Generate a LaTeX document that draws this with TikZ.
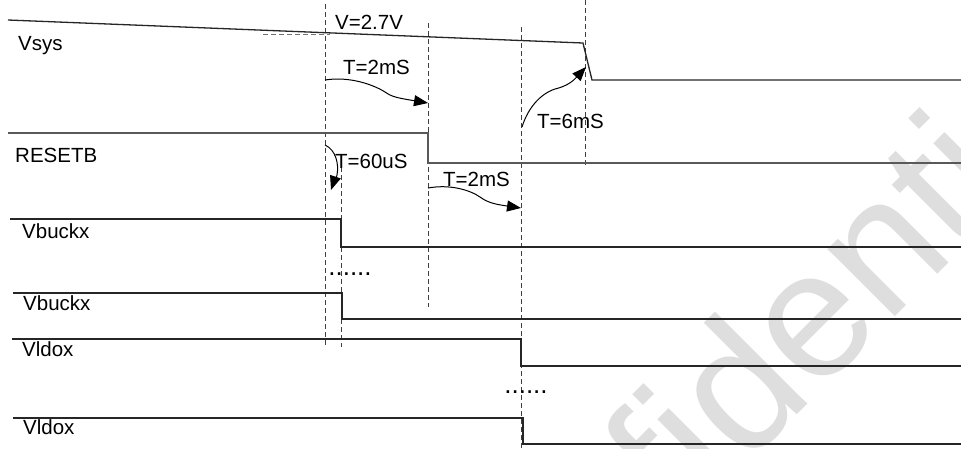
\documentclass[tikz,border=0pt]{standalone}
\usepackage{fontspec}
\setmainfont{Liberation Sans}
\usetikzlibrary{arrows.meta}
\begin{document}
\begin{tikzpicture}[x=1pt,y=-1pt,
  sig/.style={line width=1.3pt,draw=black!85},
  guide/.style={line width=0.8pt,draw=black!75,dash pattern=on 5pt off 3pt},
  lbl/.style={inner sep=0pt,anchor=base west,font=\fontsize{20.5}{24}\selectfont},
  dots/.style={inner sep=0pt,anchor=base,font=\fontsize{26}{28}\selectfont},
  tarrow/.style={line width=1pt,draw=black,-{Triangle[length=14pt,width=11pt]}},
  wmark/.style={inner sep=0pt,anchor=base west,rotate=45,text=black!13,font=\fontsize{180}{200}\selectfont}]
\useasboundingbox (0,0) rectangle (961,448);
\fill[white] (0,0) rectangle (961,448);
\begin{scope}
\clip (0,0) rectangle (961,448);
\node[wmark] (wm) at (448,764) {Confidential};
\end{scope}

% guide lines
\coordinate (g1t) at (325,4);   \coordinate (g1b) at (325,345);
\coordinate (g2t) at (341,167); \coordinate (g2b) at (341,347);
\coordinate (g3t) at (428,23);  \coordinate (g3b) at (428,307);
\coordinate (g4t) at (521,27);  \coordinate (g4b) at (521,448);
\coordinate (g5t) at (585,0);   \coordinate (g5b) at (585,165);
\coordinate (h1a) at (263,34);  \coordinate (h1b) at (330,34);
\draw[guide] (g1t) -- (g1b);
\draw[guide] (g2t) -- (g2b);
\draw[guide] (g3t) -- (g3b);
\draw[guide] (g4t) -- (g4b);
\draw[guide] (g5t) -- (g5b);
\draw[guide,draw=black!55] (h1a) -- (h1b);

% signals
\coordinate (vs0) at (8,20);   \coordinate (vs1) at (583,43);
\coordinate (vs2) at (592,80); \coordinate (vs3) at (961,80);
\draw[sig] (vs0) -- (vs1) -- (vs2) -- (vs3);

\coordinate (rs0) at (8,133);   \coordinate (rs1) at (428,133);
\coordinate (rs2) at (428,163); \coordinate (rs3) at (961,163);
\draw[sig,draw=black!65] (rs0) -- (rs1) -- (rs2) -- (rs3);

\coordinate (b10) at (10,219);  \coordinate (b11) at (341,219);
\coordinate (b12) at (341,247); \coordinate (b13) at (961,247);
\draw[sig] (b10) -- (b11) -- (b12) -- (b13);

\coordinate (b20) at (13,293);  \coordinate (b21) at (342,293);
\coordinate (b22) at (342,319); \coordinate (b23) at (961,319);
\draw[sig] (b20) -- (b21) -- (b22) -- (b23);

\coordinate (l10) at (12,339);  \coordinate (l11) at (521,339);
\coordinate (l12) at (521,366); \coordinate (l13) at (961,366);
\draw[sig] (l10) -- (l11) -- (l12) -- (l13);

\coordinate (l20) at (13,418);  \coordinate (l21) at (523,418);
\coordinate (l22) at (523,444); \coordinate (l23) at (961,444);
\draw[sig] (l20) -- (l21) -- (l22) -- (l23);

% labels
\node[lbl] (tvsys) at (18,50) {Vsys};
\node[lbl] (trst) at (15,162) {RESETB};
\node[lbl] (tb1) at (22,238) {Vbuckx};
\node[lbl] (tb2) at (23,310) {Vbuckx};
\node[lbl] (tl1) at (22,356) {Vldox};
\node[lbl] (tl2) at (23,434) {Vldox};
\node[lbl] (tv27) at (335,29) {V=2.7V};
\node[lbl] (tt1) at (343,74) {T=2mS};
\node[lbl] (tt6) at (537,128) {T=6mS};
\node[lbl] (tt60) at (335,168) {T=60uS};
\node[lbl] (tt2) at (443,186) {T=2mS};
\node[dots] (d1) at (350,275) {......};
\node[dots] (d2) at (526,393) {......};

% timing arrows
\coordinate (a1s) at (325,80);  \coordinate (a1e) at (428,103);
\draw[tarrow] (a1s) .. controls (350,76) and (374,85) .. (385,92)
  .. controls (392,97) and (398,98) .. (a1e);
\coordinate (a2s) at (522,127); \coordinate (a2e) at (586,67);
\draw[tarrow] (a2s) .. controls (528,108) and (540,94) .. (555,89)
  .. controls (568,86) and (574,80) .. (a2e);
\coordinate (a3s) at (325,145); \coordinate (a3e) at (331,190);
\draw[tarrow] (a3s) .. controls (336,150) and (339,164) .. (337,175)
  .. controls (336,180) and (334,181) .. (a3e);
\coordinate (a4s) at (428,188); \coordinate (a4e) at (521,208);
\draw[tarrow] (a4s) .. controls (450,184) and (470,190) .. (480,197)
  .. controls (487,202) and (493,204) .. (a4e);
\end{tikzpicture}
\end{document}
